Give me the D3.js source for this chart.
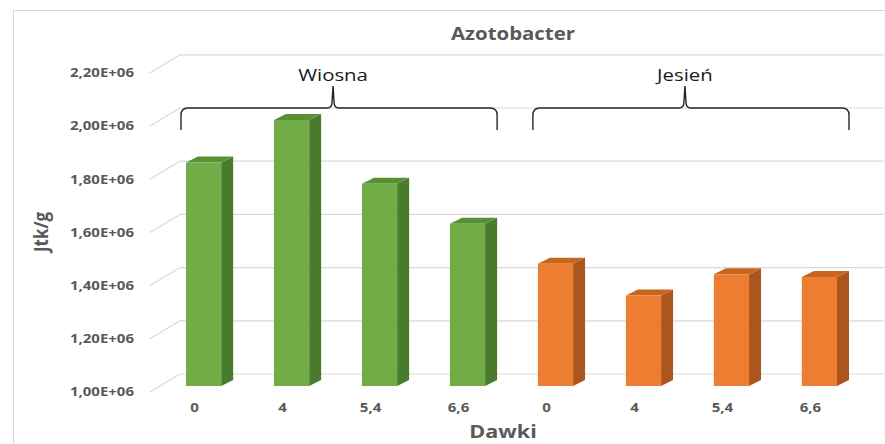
<!DOCTYPE html>
<html>
<head>
<meta charset="utf-8">
<script src="https://cdn.jsdelivr.net/npm/d3@7"></script>
<style>
  html, body { margin: 0; padding: 0; background: #fff; }
  svg { display: block; }
</style>
</head>
<body>
<svg id="chart" width="885" height="444"></svg>
<script>
// Azotobacter counts (Jtk/g) per dose, spring and autumn sampling
const doses = ["0", "4", "5,4", "6,6"];
const seasons = ["Wiosna", "Jesień"];
const wiosna = [1.84e6, 2.00e6, 1.76e6, 1.61e6];
const jesien = [1.46e6, 1.34e6, 1.42e6, 1.41e6];
const yTicks = [1.0e6, 1.2e6, 1.4e6, 1.6e6, 1.8e6, 2.0e6, 2.2e6];

const colors = {
  Wiosna: { front: "#70ad47", side: "#4a7a2b", top: "#5a8f36" },
  "Jesień": { front: "#ed7d31", side: "#aa561d", top: "#c8651f" }
};

const rows = [];
seasons.forEach((s, si) => {
  const vals = si === 0 ? wiosna : jesien;
  doses.forEach((d, di) => rows.push({ key: s + "|" + d, season: s, dose: d, value: vals[di] }));
});

const svg = d3.select("#chart");
const font = "'Open Sans', 'Noto Sans', sans-serif";
const sx = 1.2; // horizontal widening of all lettering

// place a text at (x, y) with the horizontal widening applied
function place(sel, x, y, rot) {
  return sel.attr("transform", (d, i) => {
    const px = typeof x === "function" ? x(d, i) : x;
    const py = typeof y === "function" ? y(d, i) : y;
    return rot ? `translate(${px},${py}) rotate(${rot}) scale(1,${sx})` : `translate(${px},${py}) scale(${sx},1)`;
  });
}

// chart frame
svg.append("rect")
  .attr("x", 13.5).attr("y", 10.5).attr("width", 900).attr("height", 500)
  .attr("fill", "#fff").attr("stroke", "#d9d9d9").attr("stroke-width", 1);

// scales (bar front plane)
const x = d3.scaleBand()
  .domain(rows.map(r => r.key))
  .range([142, 881])
  .paddingInner(0.6)
  .paddingOuter(0.5);
const y = d3.scaleLinear().domain([1.0e6, 2.2e6]).range([386, 66.8]);

// 3D offsets
const depth = { dx: 12, dy: -6 };        // bar depth
const wall = { dx: 20, dy: -12 };        // back wall relative to bar front plane
const floorFront = { dx: -10, dy: 6 };   // front edge of floor relative to bar front plane
const wallRight = 884;

const fmt = v => (v / 1e6).toFixed(2).replace(".", ",") + "E+06";

// gridlines on back wall + floor diagonals
const grid = svg.append("g");
yTicks.forEach(v => {
  const yb = y(v);
  const xb = 160 + wall.dx;
  grid.append("line")
    .attr("x1", xb).attr("x2", wallRight)
    .attr("y1", yb + wall.dy).attr("y2", yb + wall.dy)
    .attr("stroke", "#d9d9d9").attr("stroke-width", 1.2);
  grid.append("line")
    .attr("x1", 160 + floorFront.dx).attr("y1", yb + floorFront.dy)
    .attr("x2", xb).attr("y2", yb + wall.dy)
    .attr("stroke", "#d9d9d9").attr("stroke-width", 1.2);
});

// y tick labels
place(svg.append("g").selectAll("text")
  .data(yTicks).join("text"), 134, d => y(d) + floorFront.dy)
  .attr("dy", "0.35em")
  .attr("text-anchor", "end")
  .attr("font-family", font).attr("font-size", 12.5).attr("font-weight", 700)
  .attr("fill", "#595959")
  .text(fmt);

// bars
const bw = x.bandwidth();
const y0 = y(1.0e6);
const bars = svg.append("g").selectAll("g").data(rows).join("g");
bars.append("path")
  .attr("d", d => {
    const x0 = x(d.key) + bw, yt = y(d.value);
    return `M${x0},${yt}L${x0 + depth.dx},${yt + depth.dy}L${x0 + depth.dx},${y0 + depth.dy}L${x0},${y0}Z`;
  })
  .attr("fill", d => colors[d.season].side);
bars.append("path")
  .attr("d", d => {
    const x0 = x(d.key), yt = y(d.value);
    return `M${x0},${yt}L${x0 + bw},${yt}L${x0 + bw + depth.dx},${yt + depth.dy}L${x0 + depth.dx},${yt + depth.dy}Z`;
  })
  .attr("fill", d => colors[d.season].top);
bars.append("rect")
  .attr("x", d => x(d.key))
  .attr("y", d => y(d.value))
  .attr("width", bw)
  .attr("height", d => y0 - y(d.value))
  .attr("fill", d => colors[d.season].front);

// x tick labels
place(svg.append("g").selectAll("text")
  .data(rows).join("text"), d => x(d.key) + bw / 2 - 9, 408)
  .attr("dy", "0.35em")
  .attr("text-anchor", "middle")
  .attr("font-family", font).attr("font-size", 12.5).attr("font-weight", 700)
  .attr("fill", "#595959")
  .text(d => d.dose);

// title and axis titles
place(svg.append("text"), 513, 40)
  .attr("text-anchor", "middle")
  .attr("font-family", font).attr("font-size", 17).attr("font-weight", 700)
  .attr("fill", "#595959")
  .text("Azotobacter");
place(svg.append("text"), 503, 438)
  .attr("text-anchor", "middle")
  .attr("font-family", font).attr("font-size", 18).attr("font-weight", 700)
  .attr("fill", "#595959")
  .text("Dawki");
place(svg.append("text"), 48, 232, -90)
  .attr("text-anchor", "middle")
  .attr("font-family", font).attr("font-size", 17).attr("font-weight", 700)
  .attr("fill", "#595959")
  .text("Jtk/g");

// season braces above each group
const braceY = 108, peakY = 86, endY = 130, peakShift = -6;
function bracePath(L, R) {
  const M = (L + R) / 2 + peakShift, r = 7;
  return `M${L},${endY}L${L},${braceY + r}Q${L},${braceY} ${L + r},${braceY}` +
    `L${M - 6},${braceY}Q${M - 1},${braceY} ${M - 1},${braceY - 6}L${M},${peakY}` +
    `L${M + 1},${braceY - 6}Q${M + 1},${braceY} ${M + 6},${braceY}` +
    `L${R - r},${braceY}Q${R},${braceY} ${R},${braceY + r}L${R},${endY}`;
}
seasons.forEach(s => {
  const keys = rows.filter(r => r.season === s).map(r => r.key);
  const L = x(keys[0]) - 5;
  const R = x(keys[keys.length - 1]) + bw + depth.dx;
  svg.append("path")
    .attr("d", bracePath(L, R))
    .attr("fill", "none").attr("stroke", "#262626").attr("stroke-width", 1.4);
  place(svg.append("text"), (L + R) / 2 + peakShift, 81)
    .attr("text-anchor", "middle")
    .attr("font-family", font).attr("font-size", 17)
    .attr("fill", "#1a1a1a")
    .text(s);
});
</script>
</body>
</html>
